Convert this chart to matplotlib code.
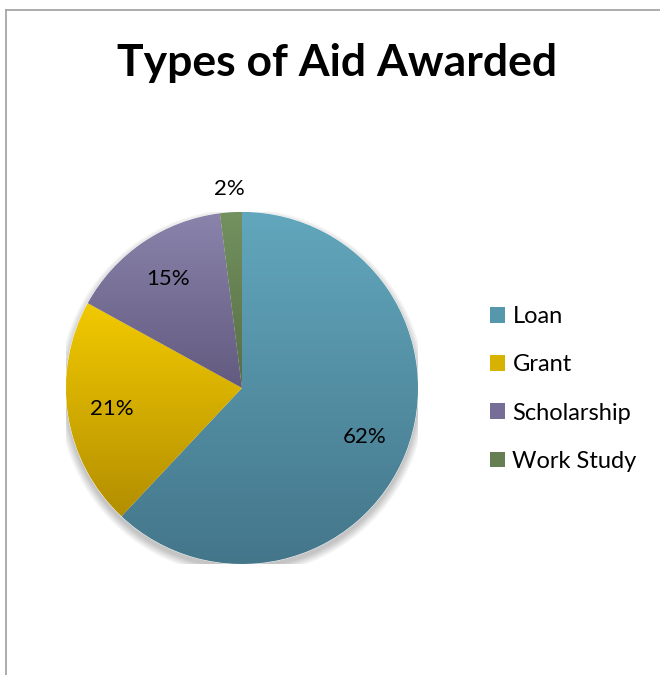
import numpy as np
import matplotlib.pyplot as plt
from matplotlib.lines import Line2D
from matplotlib.patches import Patch, Circle
from matplotlib.colors import LinearSegmentedColormap

# Types of aid, share of total (percent)
labels = ["Loan", "Grant", "Scholarship", "Work Study"]
shares = [62, 21, 15, 2]
pct_text = ["62%", "21%", "15%", "2%"]

# gradient ends (top, bottom) for each slice, Excel-style
top_colors = ["#62a7bd", "#f2ca00", "#8a83ab", "#73925f"]
bottom_colors = ["#44768a", "#b38e00", "#625a7f", "#576e46"]
mid_colors = ["#5597ab", "#d8b200", "#766e96", "#667f52"]

plt.rcParams['font.family'] = ['Lato', 'DejaVu Sans']

fig = plt.figure(figsize=(6.6, 6.75), dpi=100)
fig.patch.set_facecolor("white")

# chart frame (left and top edges)
fig.add_artist(Line2D([6.5 / 660, 6.5 / 660], [0, 1 - 10 / 675], color="#a6a6a6", lw=1.3))
fig.add_artist(Line2D([6.5 / 660, 1], [1 - 10 / 675, 1 - 10 / 675], color="#a6a6a6", lw=1.3))

fig.text(337 / 660, 1 - 63 / 675, "Types of Aid Awarded", ha="center", va="center",
         fontsize=32, fontweight="bold", color="black")

ax = fig.add_axes([0.1, 0.1645, 0.5333, 0.5215])
ax.set_xlim(-1, 1)
ax.set_ylim(-1, 1)
ax.axis("off")

# soft shadow under the pie
for i in range(12):
    ax.add_patch(Circle((0, -0.025), 1.0 + 0.004 * i, color="black",
                        alpha=0.018, lw=0, zorder=0))

wedges, texts = ax.pie(shares, startangle=90, counterclock=False, radius=1,
                       colors=mid_colors, center=(0, 0),
                       wedgeprops=dict(lw=0.6, edgecolor="white"))

for w, c0, c1 in zip(wedges, top_colors, bottom_colors):
    w.set_zorder(1)
    bb = w.get_path().get_extents(w.get_patch_transform())
    cmap = LinearSegmentedColormap.from_list("g", [c1, c0])
    grad = np.linspace(0, 1, 256).reshape(-1, 1)
    im = ax.imshow(grad, cmap=cmap, origin="lower", aspect="auto",
                   extent=[bb.x0, bb.x1, bb.y0, bb.y1], zorder=2)
    im.set_clip_path(w)
ax.set_xlim(-1, 1)
ax.set_ylim(-1, 1)

# percentage labels
angle = 90.0
total = sum(shares)
for s, t in zip(shares, pct_text):
    span = 360.0 * s / total
    mid = np.deg2rad(angle - span / 2)
    dist = 0.75 if s > 5 else 1.13
    ax.text(dist * np.cos(mid), dist * np.sin(mid), t, ha="center", va="center",
            fontsize=16, color="black", zorder=5)
    angle -= span

handles = [Patch(facecolor=c, edgecolor="none") for c in mid_colors]
fig.legend(handles, labels, loc="center left", bbox_to_anchor=(490 / 660, 1 - 389 / 675),
           frameon=False, fontsize=17, handlelength=0.65, handleheight=0.65,
           handletextpad=0.3, labelspacing=1.15, borderpad=0, borderaxespad=0)

fig.savefig("out.png", dpi=100, facecolor="white")
